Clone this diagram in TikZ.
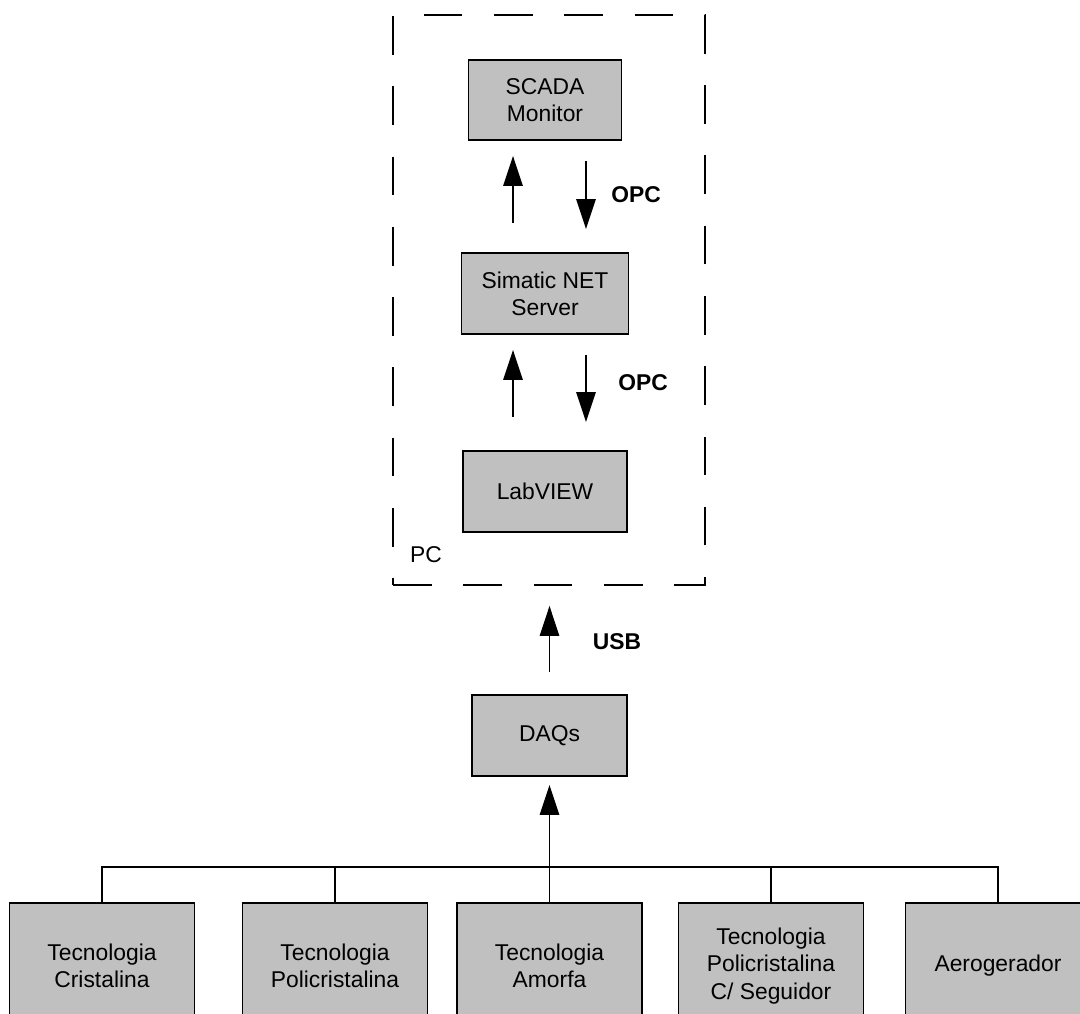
\documentclass[tikz,border=0pt]{standalone}
\usepackage{fontspec}
\setmainfont{Liberation Sans}
\usetikzlibrary{arrows.meta, positioning, calc}
\definecolor{boxgray}{RGB}{192, 192, 192}
\begin{document}
\begin{tikzpicture}[x=0.02cm, y=-0.02cm,
  font=\fontsize{13}{15.5}\selectfont,
  blk/.style={draw, line width=1.1pt, fill=boxgray, align=center, inner sep=0pt},
  arr/.style={line width=0.85pt, -{Triangle[length=17pt, width=11pt]}},
  lbl/.style={font=\fontsize{13}{15.5}\selectfont\bfseries}]
  \clip (0, 0) rectangle (1080, 1014);

  % PC boundary
  \node[draw, dash pattern=on 22pt off 18pt, line width=1.1pt,
        minimum width=6.24cm, minimum height=11.4cm] (pc) at (549, 300) {};
  \node (pclbl) at (426, 555) {PC};

  % Software stack
  \node[blk, minimum width=3.06cm, minimum height=1.6cm] (scada) at (545, 100) {SCADA\\Monitor};
  \node[blk, minimum width=3.34cm, minimum height=1.62cm] (simatic) at (545, 293.5) {Simatic NET\\Server};
  \node[blk, minimum width=3.28cm, minimum height=1.62cm] (labview) at (545, 491.5) {LabVIEW};
  \node[blk, minimum width=3.1cm, minimum height=1.62cm] (daqs) at (549.5, 735.5) {DAQs};

  % OPC links
  \draw[arr, shorten <=0.58cm, shorten >=0.3cm] ([xshift=-0.64cm]simatic.north) -- ([xshift=-0.64cm]scada.south);
  \draw[arr, shorten <=0.4cm, shorten >=0.46cm] ([xshift=0.82cm]scada.south) -- ([xshift=0.82cm]simatic.north);
  \node[lbl] (opc1) at (636, 195) {OPC};
  \draw[arr, shorten <=0.66cm, shorten >=0.3cm] ([xshift=-0.64cm]labview.north) -- ([xshift=-0.64cm]simatic.south);
  \draw[arr, shorten <=0.4cm, shorten >=0.56cm] ([xshift=0.82cm]simatic.south) -- ([xshift=0.82cm]labview.north);
  \node[lbl] (opc2) at (643, 383) {OPC};

  % USB link
  \draw[arr, shorten <=0.44cm, shorten >=0.4cm] (daqs.north) -- (daqs.north |- pc.south);
  \node[lbl] (usb) at (617, 642) {USB};

  % Sources
  \foreach \nm/\x/\txt in {t1/102/{Tecnologia\\Cristalina}, t2/335/{Tecnologia\\Policristalina},
      t3/549.5/{Tecnologia\\Amorfa}, t4/771/{Tecnologia\\Policristalina\\C/ Seguidor}, t5/998/{Aerogerador}} {
    \node[blk, minimum width=3.7cm, minimum height=2.52cm] (\nm) at (\x, 966) {\txt};
  }

  % Bus
  \coordinate (bus) at (549.5, 867);
  \draw[line width=0.85pt] (t1.north) |- (bus) -| (t5.north);
  \foreach \nm in {t2, t4}
    \draw[line width=0.85pt] (\nm.north) -- (\nm.north |- bus);
  \draw[arr, shorten >=0.16cm] (t3.north) -- (daqs.south);
\end{tikzpicture}
\end{document}
